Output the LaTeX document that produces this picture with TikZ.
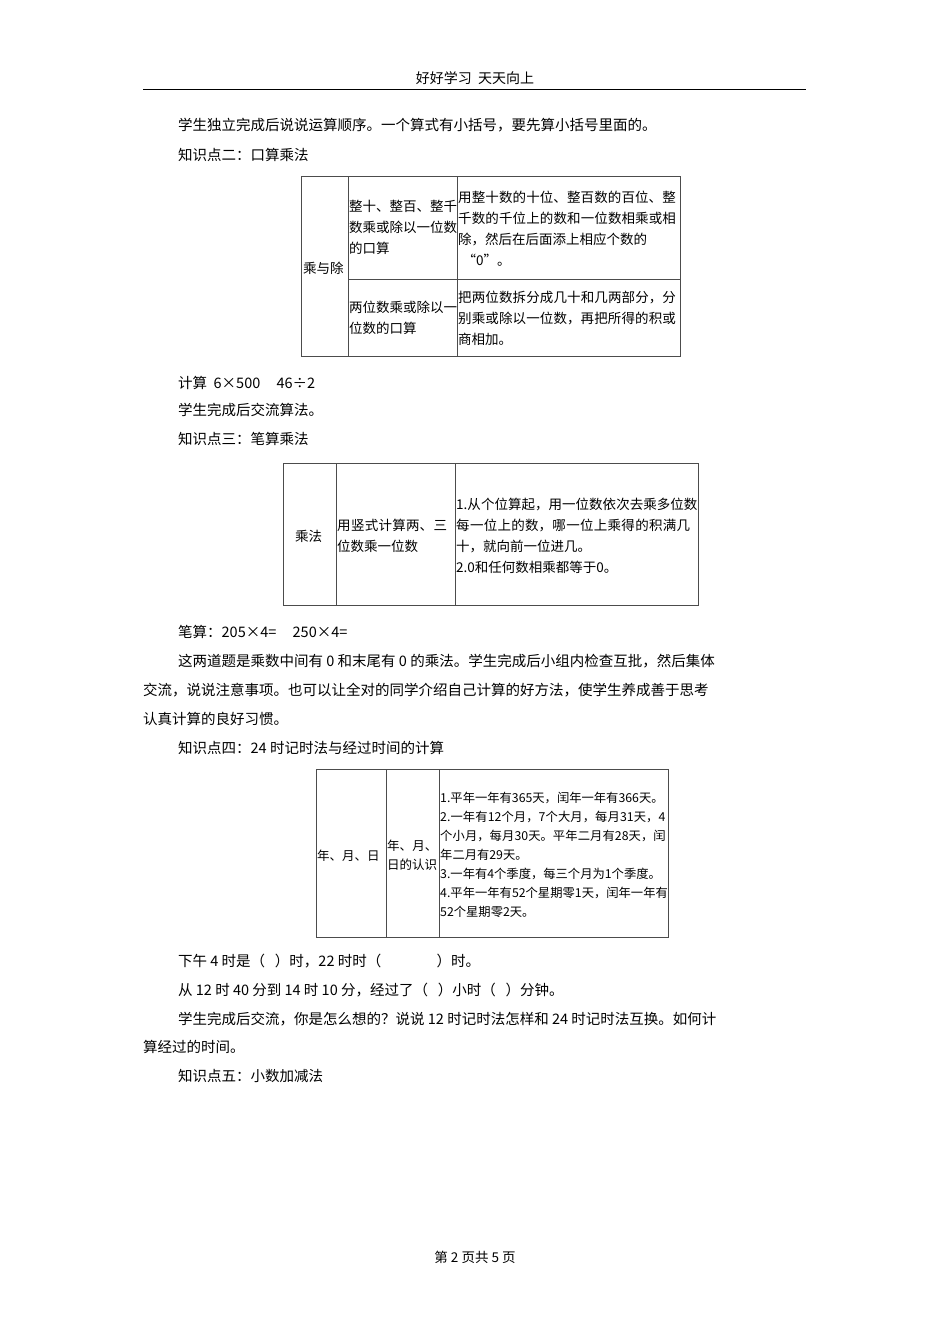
\documentclass[tikz,border=0pt]{standalone}
\usepackage{fontspec}
\setmainfont{Noto Sans CJK SC}
\XeTeXlinebreaklocale "zh"
\XeTeXlinebreakskip=0pt plus 1pt
\usetikzlibrary{positioning}
\begin{document}
\begin{tikzpicture}[x=1pt, y=-1pt, every node/.style={inner sep=0pt},
    line/.style={anchor=west, font=\fontsize{14.5}{18}\selectfont},
    cell/.style={anchor=west, align=left, font=\fontsize{13.5}{21}\selectfont},
    grid/.style={draw=black!70, line width=0.8pt}]
    \useasboundingbox (0,0) rectangle (950,1344);

    % header and footer
    \node[font=\fontsize{14}{16}\selectfont] (head) at (475,78) {好好学习\ \ 天天向上};
    \draw[line width=0.8pt] (143,89) -- (806,89);
    \node[font=\fontsize{13.5}{16}\selectfont] (foot) at (475,1257) {第 2 页共 5 页};

    % text lines
    \node[line] (t1) at (178,125) {学生独立完成后说说运算顺序。一个算式有小括号，要先算小括号里面的。};
    \node[line] (t2) at (178,155) {知识点二：口算乘法};

    % table one
    \draw[grid] (301,176) rectangle (680,356);
    \draw[grid] (348,176) -- (348,356);
    \draw[grid] (457,176) -- (457,356);
    \draw[grid] (348,279) -- (680,279);
    \node[cell] (a1) at (303,268) {乘与除};
    \node[cell, text width=108pt] (a2) at (349,227) {整十、整百、整千数乘或除以一位数的口算};
    \node[cell, text width=221pt] (a3) at (458,229) {用整十数的十位、整百数的百位、整千数的千位上的数和一位数相乘或相除，然后在后面添上相应个数的\\\ “0”。};
    \node[cell, text width=108pt] (a4) at (349,318) {两位数乘或除以一位数的口算};
    \node[cell, text width=221pt] (a5) at (458,318) {把两位数拆分成几十和几两部分，分别乘或除以一位数，再把所得的积或商相加。};

    \node[line] (t3) at (178,383) {计算\ \ 6×500\ \ \ \ \ 46÷2};
    \node[line] (t4) at (178,410) {学生完成后交流算法。};
    \node[line] (t5) at (178,439) {知识点三：笔算乘法};

    % table two
    \draw[grid] (283,463) rectangle (698,605);
    \draw[grid] (336,463) -- (336,605);
    \draw[grid] (455,463) -- (455,605);
    \node[cell] (b1) at (295,536) {乘法};
    \node[cell, text width=118pt] (b2) at (337,536) {用竖式计算两、三位数乘一位数};
    \node[cell, text width=242pt] (b3) at (456,536) {1.从个位算起，用一位数依次去乘多位数每一位上的数，哪一位上乘得的积满几十，就向前一位进几。\\2.0和任何数相乘都等于0。};

    \node[line] (t6) at (178,632) {笔算：205×4=\ \ \ \ \ 250×4=};
    \node[line] (t7) at (178,661) {这两道题是乘数中间有 0 和末尾有 0 的乘法。学生完成后小组内检查互批，然后集体};
    \node[line] (t8) at (143,690) {交流，说说注意事项。也可以让全对的同学介绍自己计算的好方法，使学生养成善于思考};
    \node[line] (t9) at (143,719) {认真计算的良好习惯。};
    \node[line] (t10) at (178,748) {知识点四：24 时记时法与经过时间的计算};

    % table three
    \draw[grid] (316,769) rectangle (668,937);
    \draw[grid] (386,769) -- (386,937);
    \draw[grid] (439,769) -- (439,937);
    \node[cell, font=\fontsize{12.5}{19}\selectfont] (c1) at (317,856) {年、月、日};
    \node[cell, font=\fontsize{12.5}{19}\selectfont, text width=52pt] (c2) at (387,855) {年、月、日的认识};
    \node[cell, font=\fontsize{12.3}{19}\selectfont, text width=228pt] (c3) at (440,855) {1.平年一年有365天，闰年一年有366天。\\2.一年有12个月，7个大月，每月31天，4个小月，每月30天。平年二月有28天，闰年二月有29天。\\3.一年有4个季度，每三个月为1个季度。\\4.平年一年有52个星期零1天，闰年一年有52个星期零2天。};

    \node[line] (t11) at (178,961) {下午 4 时是（\ \ \ ）时，22 时时（\ \ \ \ \ \ \ \ \ \ \ \ \ \ \ \ \ ）时。};
    \node[line] (t12) at (178,990) {从 12 时 40 分到 14 时 10 分，经过了（\ \ \ ）小时（\ \ \ ）分钟。};
    \node[line] (t13) at (178,1019) {学生完成后交流，你是怎么想的？说说 12 时记时法怎样和 24 时记时法互换。如何计};
    \node[line] (t14) at (143,1047) {算经过的时间。};
    \node[line] (t15) at (178,1076) {知识点五：小数加减法};
\end{tikzpicture}
\end{document}
